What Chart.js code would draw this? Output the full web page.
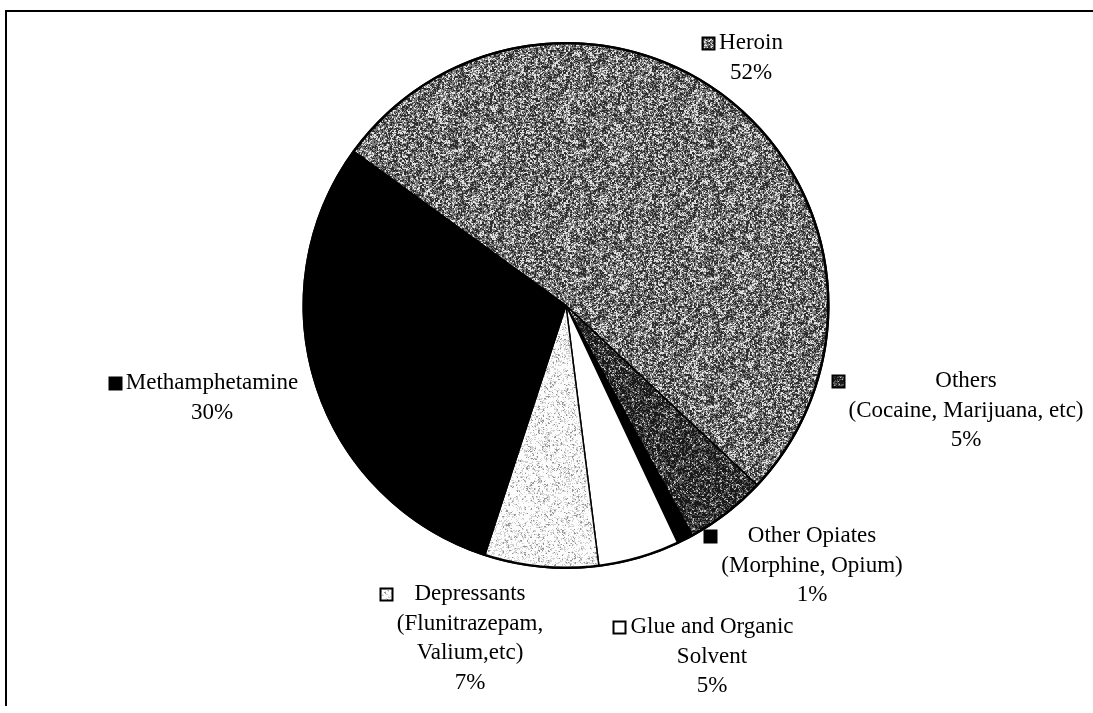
<!DOCTYPE html>
<html>
<head>
<meta charset="utf-8">
<title>Drug use by type</title>
<script src="https://cdn.jsdelivr.net/npm/chart.js@4.4.1/dist/chart.umd.min.js"></script>
<style>
  html, body { margin: 0; padding: 0; background: #ffffff; }
  canvas { display: block; }
</style>
</head>
<body>
<canvas id="c" width="1093" height="713"></canvas>
<script>
// Shares by drug type (percent), clockwise from the Heroin slice
const categories = ['Heroin', 'Others', 'Other Opiates', 'Glue and Organic Solvent', 'Depressants', 'Methamphetamine'];
const shares = [52, 5, 1, 5, 7, 30];
// Text lines of each slice label (the percentage line is appended from shares)
const labelLines = [
  ['Heroin'],
  ['Others', '(Cocaine, Marijuana, etc)'],
  ['Other Opiates', '(Morphine, Opium)'],
  ['Glue and Organic', 'Solvent'],
  ['Depressants', '(Flunitrazepam,', 'Valium,etc)'],
  ['Methamphetamine']
];

// ---- styling ----
const FONT = '23px "Liberation Serif", "Times New Roman", serif';
const LINE_H = 29.5;
const KEY = 12;

// Grainy halftone fills, built from a deterministic hash
function hash(x, y, s) {
  let h = (Math.imul(x, 374761393) + Math.imul(y, 668265263) + Math.imul(s, 1442695041)) | 0;
  h = Math.imul(h ^ (h >>> 13), 1274126177);
  h = h ^ (h >>> 16);
  return ((h >>> 0) % 10000) / 10000;
}
function grain(seed, levels) {
  const n = 128;
  const cv = document.createElement('canvas');
  cv.width = n; cv.height = n;
  const g = cv.getContext('2d');
  const img = g.createImageData(n, n);
  for (let y = 0; y < n; y++) {
    for (let x = 0; x < n; x++) {
      // mix single-pixel and 2x2 grain for a coarser scan-like texture
      const r = 0.5 * hash(x, y, seed) + 0.5 * hash(x >> 1, y >> 1, seed + 7);
      let v = levels[levels.length - 1][1];
      for (const [p, val] of levels) { if (r < p) { v = val; break; } }
      const i = (y * n + x) * 4;
      img.data[i] = img.data[i + 1] = img.data[i + 2] = v;
      img.data[i + 3] = 255;
    }
  }
  g.putImageData(img, 0, 0);
  return g.createPattern(cv, 'repeat');
}
const fills = [
  grain(1, [[0.33, 225], [0.6, 125], [1, 45]]),    // Heroin
  grain(2, [[0.22, 190], [0.5, 85], [1, 25]]),     // Others
  '#000000',                                       // Other Opiates
  '#ffffff',                                       // Glue and Organic Solvent
  grain(3, [[0.62, 252], [0.82, 210], [1, 150]]),  // Depressants
  '#000000'                                        // Methamphetamine
];
// Label block anchors: centre x of the text block, y of its first line
const labelPos = [
  [751, 43], [966, 381], [812, 536], [712, 627], [470, 594], [212, 383]
];

const frame = {
  id: 'frame',
  beforeDraw(chart) {
    const c = chart.ctx;
    c.save();
    c.strokeStyle = '#000';
    c.lineWidth = 2;
    c.beginPath();
    c.moveTo(6, 706);
    c.lineTo(6, 11);
    c.lineTo(1093, 11);
    c.stroke();
    c.restore();
  }
};

// Outer rim of the pie, drawn a little heavier than the slice edges
const rim = {
  id: 'rim',
  afterDatasetsDraw(chart) {
    const arc = chart.getDatasetMeta(0).data[0];
    if (!arc) return;
    const c = chart.ctx;
    c.save();
    c.strokeStyle = '#000';
    c.lineWidth = 2.5;
    c.beginPath();
    c.arc(arc.x, arc.y, arc.outerRadius - 0.5, 0, Math.PI * 2);
    c.stroke();
    c.restore();
  }
};

const sliceLabels = {
  id: 'sliceLabels',
  afterDraw(chart) {
    const c = chart.ctx;
    c.save();
    c.font = FONT;
    c.fillStyle = '#000';
    c.textAlign = 'center';
    c.textBaseline = 'middle';
    shares.forEach((v, i) => {
      const lines = labelLines[i].concat([v + '%']);
      const [cx, y0] = labelPos[i];
      let w = 0;
      lines.forEach(t => { w = Math.max(w, c.measureText(t).width); });
      lines.forEach((t, k) => c.fillText(t, cx, y0 + k * LINE_H));
      // legend key to the left of the block, level with the first line
      const kx = Math.round(cx - w / 2 - 5 - KEY) + 0.5;
      const ky = Math.round(y0 - KEY / 2) + 0.5;
      c.fillStyle = fills[i];
      c.fillRect(kx, ky, KEY, KEY);
      c.strokeStyle = '#000';
      c.lineWidth = 2;
      c.strokeRect(kx, ky, KEY, KEY);
      c.fillStyle = '#000';
    });
    c.restore();
  }
};

new Chart(document.getElementById('c'), {
  type: 'pie',
  data: {
    labels: categories,
    datasets: [{
      data: shares,
      backgroundColor: fills,
      borderColor: '#000000',
      borderWidth: 1.5,
      hoverOffset: 0
    }]
  },
  options: {
    responsive: false,
    animation: false,
    rotation: 306,
    layout: { padding: { left: 302, right: 263, top: 42, bottom: 144 } },
    plugins: {
      legend: { display: false },
      tooltip: { enabled: false },
      title: { display: false }
    }
  },
  plugins: [frame, rim, sliceLabels]
});
</script>
</body>
</html>
